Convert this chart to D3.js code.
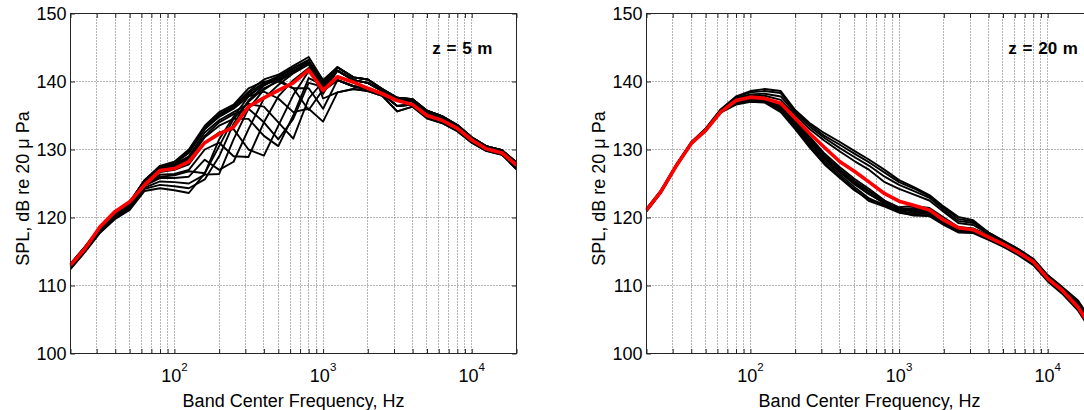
<!DOCTYPE html>
<html><head><meta charset="utf-8">
<script src="https://cdn.jsdelivr.net/npm/d3@7"></script>
<style>
body{margin:0;background:#fff}
svg{display:block}
text{font-family:"Liberation Sans",Arial,Helvetica,sans-serif;fill:#000}
</style>
</head><body>
<svg id="chart" width="1084" height="410"></svg>
<script>
// ---- data ----
const bandFreqs = [20,25,31.5,40,50,63,80,100,125,160,200,250,315,400,500,630,800,1000,1250,1600,2000,2500,3150,4000,5000,6300,8000,10000,12500,16000,20000];
const yTickValues = [100,110,120,130,140,150];
const xMajorTicks = [100,1000,10000];
const xMajorExponents = ["2","3","4"];
const xMinorTicks = [20,30,40,50,60,70,80,90,200,300,400,500,600,700,800,900,2000,3000,4000,5000,6000,7000,8000,9000,20000];
const panelLabels = ["z = 5 m","z = 20 m"];
const xAxisTitle = "Band Center Frequency, Hz";
const yAxisTitle = "SPL, dB re 20 \u03bc Pa";

// z = 5 m : mean (red) and individual spectra (black)
const red5m = [113.0,115.4,118.6,120.9,122.3,124.8,126.9,127.2,128.2,131.0,132.3,133.3,136.3,137.6,138.7,139.8,141.7,138.7,140.7,139.9,139.0,138.2,137.2,136.6,135.0,134.3,133.1,131.4,130.1,129.5,127.7];
const black5m = [
 [112.4,114.9,117.7,119.8,121.1,123.9,124.3,124.0,123.6,126.5,131.5,134.8,137.8,139.6,140.4,141.6,142.7,139.8,141.6,140.2,139.8,138.6,137.3,137.1,135.3,134.6,133.3,131.5,130.2,129.6,127.8],
 [112.5,115.0,117.8,119.9,121.3,124.2,124.8,124.6,124.3,125.6,129.0,133.8,137.2,139.4,140.6,141.9,143.0,140.2,142.1,140.6,140.3,138.9,137.6,137.4,135.7,134.9,133.6,131.8,130.5,129.9,128.1],
 [112.6,115.1,117.9,120.0,121.4,124.4,125.3,125.2,125.0,126.3,126.4,131.5,136.0,138.8,140.2,141.5,142.9,139.0,141.6,140.2,139.8,138.6,137.3,137.1,135.3,134.6,133.3,131.5,130.2,129.6,127.8],
 [112.7,115.2,118.0,120.1,121.6,124.7,125.8,125.8,126.0,128.5,127.0,128.2,133.0,137.5,139.5,141.2,142.5,138.6,140.2,139.3,138.9,138.2,136.4,136.6,134.8,134.1,132.9,131.2,129.9,129.3,127.4],
 [112.8,115.3,118.1,120.3,121.8,125.0,126.3,126.4,127.0,130.0,131.0,129.0,128.9,134.0,137.8,140.2,142.0,138.2,141.6,140.2,139.8,138.6,137.3,137.1,135.3,134.6,133.3,131.5,130.2,129.6,127.8],
 [112.9,115.4,118.2,120.4,121.9,125.2,126.7,127.0,127.8,131.0,132.5,133.0,130.0,129.1,133.5,138.0,141.5,138.8,140.2,139.3,138.9,138.2,136.4,136.6,134.8,134.1,132.9,131.2,129.9,129.3,127.4],
 [113.0,115.5,118.3,120.5,122.0,125.3,127.0,127.5,128.5,131.8,133.5,134.5,134.5,132.0,130.5,135.0,140.5,139.5,142.1,140.6,140.3,138.9,137.6,137.4,135.7,134.9,133.6,131.8,130.5,129.9,128.1],
 [113.1,115.6,118.4,120.6,122.1,125.4,127.3,127.8,129.0,132.5,134.3,135.5,136.7,136.3,134.0,131.6,137.5,140.0,141.6,140.2,139.8,138.6,137.3,137.1,135.3,134.6,133.3,131.5,130.2,129.6,127.8],
 [113.2,115.7,118.5,120.7,122.2,125.5,127.5,128.0,129.5,133.0,134.8,136.0,137.8,138.5,137.5,135.5,136.0,134.1,138.4,138.9,138.6,137.9,135.6,136.3,134.6,133.9,132.7,131.0,129.8,129.2,127.1],
 [113.2,115.7,118.5,120.7,122.3,125.5,127.6,128.2,130.0,133.5,135.5,136.6,139.0,140.0,140.0,139.0,139.0,136.0,140.2,139.3,138.9,138.2,136.4,136.6,134.8,134.1,132.9,131.2,129.9,129.3,127.4],
 [113.1,115.6,118.4,120.6,122.2,125.4,127.4,128.1,129.8,133.2,135.2,136.4,138.5,140.3,141.0,142.3,143.6,140.2,142.1,140.6,140.3,138.9,137.6,137.4,135.7,134.9,133.6,131.8,130.5,129.9,128.1],
 [113.0,115.5,118.3,120.5,122.1,125.3,127.2,127.9,129.6,133.0,135.0,136.2,138.3,139.8,140.8,142.0,143.2,137.5,138.4,138.9,138.6,137.9,135.6,136.3,134.6,133.9,132.7,131.0,129.8,129.2,127.1],
 [112.7,115.2,118.0,120.2,121.7,124.9,126.0,126.2,126.8,126.5,130.5,134.5,137.0,139.0,140.0,141.3,142.8,139.6,142.1,140.6,140.3,138.9,137.6,137.4,135.7,134.9,133.6,131.8,130.5,129.9,128.1],
 [113.1,115.6,118.4,120.6,122.2,125.4,127.4,128.0,129.7,133.2,135.0,136.4,138.0,139.5,140.3,139.0,135.8,138.8,140.2,139.3,138.9,138.2,136.4,136.6,134.8,134.1,132.9,131.2,129.9,129.3,127.4],
 [113.0,115.5,118.3,120.5,122.0,125.3,127.1,127.6,128.8,132.0,134.0,135.2,136.0,134.0,131.5,134.5,139.8,139.2,141.6,140.2,139.8,138.6,137.3,137.1,135.3,134.6,133.3,131.5,130.2,129.6,127.8]
];

// z = 20 m : mean (red) and individual spectra (black)
const red20m = [121.1,123.8,127.5,130.9,132.8,135.5,137.2,137.7,137.5,136.8,134.6,132.4,130.3,128.2,126.8,125.2,123.5,122.4,121.8,121.1,119.6,118.5,118.2,117.1,116.1,114.9,113.5,111.0,109.3,106.8,103.5];
const black20m = [
 [120.9,123.6,127.4,130.8,132.7,135.4,136.6,137.0,136.9,135.5,133.0,130.3,127.8,125.8,124.0,122.6,121.9,120.8,120.3,120.2,118.9,117.8,117.7,116.7,115.7,114.5,113.0,110.6,108.8,106.3,103.0],
 [121.0,123.7,127.5,130.9,132.8,135.5,136.7,137.1,137.0,135.7,133.2,130.5,128.0,126.0,124.2,122.4,121.6,120.7,120.4,120.3,119.0,117.9,117.8,116.8,115.8,114.6,113.1,110.7,108.9,106.5,103.2],
 [121.1,123.8,127.5,130.9,132.8,135.5,136.8,137.2,137.1,135.8,133.4,130.8,128.3,126.3,124.5,122.8,121.8,121.0,120.6,120.5,119.2,118.0,117.9,116.9,115.9,114.7,113.2,110.8,109.0,106.6,103.3],
 [121.0,123.7,127.4,130.8,132.8,135.5,136.9,137.3,137.2,136.0,133.6,131.1,128.6,126.6,124.9,123.4,122.2,121.3,120.8,120.7,119.3,118.1,118.0,117.0,116.0,114.8,113.3,110.9,109.1,106.7,103.4],
 [121.1,123.8,127.6,131.0,132.9,135.6,137.0,137.4,137.3,136.1,133.8,131.3,128.8,126.8,125.0,123.5,122.0,121.3,121.0,120.8,119.4,118.2,118.1,117.1,116.1,114.9,113.4,111.0,109.2,106.8,103.5],
 [121.2,123.9,127.6,131.0,132.9,135.6,137.1,137.5,137.4,136.3,133.9,131.4,129.0,127.0,125.2,123.8,122.4,121.0,121.2,121.0,119.6,118.3,118.2,117.2,116.2,115.0,113.5,111.1,109.3,106.9,103.6],
 [121.0,123.7,127.5,130.9,132.9,135.6,137.1,137.6,137.5,136.4,134.1,131.6,129.1,127.1,125.4,123.9,122.2,121.2,121.4,121.2,119.8,118.4,118.3,117.3,116.3,115.1,113.6,111.2,109.4,107.0,103.7],
 [121.1,123.8,127.5,130.9,132.9,135.6,137.2,137.6,137.6,136.6,134.3,131.9,129.4,127.4,125.7,124.2,122.5,121.5,121.7,121.4,120.0,118.6,118.4,117.4,116.3,115.1,113.6,111.2,109.4,107.1,103.8],
 [121.2,123.9,127.6,131.0,133.0,135.7,137.4,137.9,137.9,137.3,135.1,133.0,131.3,129.7,128.3,127.0,125.2,124.2,123.4,122.5,120.8,119.2,118.9,117.6,116.4,115.2,113.7,111.3,109.5,107.3,104.0],
 [121.1,123.8,127.5,130.9,133.0,135.7,137.5,138.1,138.2,137.8,135.4,133.4,131.7,130.2,128.9,127.6,126.0,124.8,123.9,122.9,121.1,119.5,119.2,117.7,116.5,115.3,113.8,111.4,109.6,107.5,104.2],
 [121.2,123.9,127.6,131.0,133.0,135.8,137.7,138.4,138.6,138.3,135.6,133.7,132.0,130.7,129.4,128.1,126.6,125.2,124.3,123.1,121.4,119.8,119.4,117.8,116.6,115.4,113.9,111.5,109.7,107.7,104.4],
 [121.3,124.0,127.7,131.1,133.1,135.9,137.8,138.6,138.9,138.6,135.8,133.9,132.4,131.1,129.8,128.5,127.0,125.5,124.5,123.3,121.6,120.1,119.6,117.8,116.6,115.4,113.9,111.5,109.8,107.8,104.6]
];

// ---- drawing ----
const svg = d3.select("#chart");
const W = 446, H = 340;
const panels = [
  {left: 70.5, top: 13.5, red: red5m, black: black5m, label: panelLabels[0]},
  {left: 646.5, top: 13.5, red: red20m, black: black20m, label: panelLabels[1]}
];

panels.forEach((p, i) => {
  const x = d3.scaleLog().domain([20, 20000]).range([0, W]);
  const y = d3.scaleLinear().domain([100, 150]).range([H, 0]);
  const g = svg.append("g").attr("transform", `translate(${p.left},${p.top})`);

  const clipId = "clip" + i;
  g.append("clipPath").attr("id", clipId).append("rect")
    .attr("x", -1).attr("y", -1).attr("width", W + 2).attr("height", H + 2);

  // grid
  const grid = g.append("g").attr("stroke", "#6a6a6a").attr("stroke-width", 1)
    .attr("stroke-dasharray", "1,2").attr("fill", "none");
  xMinorTicks.concat(xMajorTicks).forEach(v => {
    const xx = Math.round(x(v));
    if (xx > 1 && xx < W - 1)
      grid.append("line").attr("x1", xx).attr("x2", xx).attr("y1", 0).attr("y2", H);
  });
  yTickValues.slice(1, -1).forEach(v => {
    grid.append("line").attr("x1", 0).attr("x2", W).attr("y1", y(v)).attr("y2", y(v));
  });

  const line = d3.line().x((d, k) => x(bandFreqs[k])).y(d => y(d));
  const lines = g.append("g").attr("clip-path", `url(#${clipId})`);
  p.black.forEach(s => {
    lines.append("path").attr("d", line(s)).attr("fill", "none")
      .attr("stroke", "#000").attr("stroke-width", 1.9).attr("stroke-linejoin", "round");
  });
  lines.append("path").attr("d", line(p.red)).attr("fill", "none")
    .attr("stroke", "#ff0000").attr("stroke-width", 3.6).attr("stroke-linejoin", "round");

  // axes (ticks inward, mirrored)
  const axCol = "#262626";
  const styleAxis = sel => {
    sel.select(".domain").remove();
    sel.selectAll("line").attr("stroke", axCol);
    sel.selectAll("text").remove();
  };
  const xt = xMajorTicks.concat(xMinorTicks);
  g.append("g").attr("transform", `translate(0,${H})`)
    .call(d3.axisBottom(x).tickValues(xt).tickSize(-4.5).tickFormat(""))
    .call(styleAxis);
  g.append("g")
    .call(d3.axisTop(x).tickValues(xt).tickSize(-4.5).tickFormat(""))
    .call(styleAxis);
  g.append("g")
    .call(d3.axisLeft(y).tickValues(yTickValues).tickSize(-4.5).tickFormat(""))
    .call(styleAxis);
  g.append("g").attr("transform", `translate(${W},0)`)
    .call(d3.axisRight(y).tickValues(yTickValues).tickSize(-4.5).tickFormat(""))
    .call(styleAxis);
  g.append("rect").attr("x", 0).attr("y", 0).attr("width", W).attr("height", H)
    .attr("fill", "none").attr("stroke", axCol).attr("stroke-width", 1);

  // y tick labels
  yTickValues.forEach(v => {
    g.append("text").attr("x", -4).attr("y", y(v) + 6.3)
      .attr("text-anchor", "end").style("font-size", "18px").text(v);
  });
  // x tick labels 10^n
  xMajorTicks.forEach((v, k) => {
    const t = g.append("text").attr("x", x(v)).attr("y", H + 28.5)
      .attr("text-anchor", "middle").style("font-size", "18px");
    t.append("tspan").text("10");
    t.append("tspan").attr("dy", -11.5).style("font-size", "11.5px").text(xMajorExponents[k]);
  });

  // axis titles
  g.append("text").attr("x", W / 2).attr("y", H + 53)
    .attr("text-anchor", "middle").style("font-size", "18px").text(xAxisTitle);
  g.append("text").attr("transform", `translate(-42,${175}) rotate(-90)`)
    .attr("text-anchor", "middle").style("font-size", "18px").text(yAxisTitle);

  // panel annotation
  g.append("text").attr("x", 361.8).attr("y", 40)
    .style("font-size", "17px").style("font-weight", "bold").style("word-spacing", "1px").text(p.label);
});
</script>
</body></html>
